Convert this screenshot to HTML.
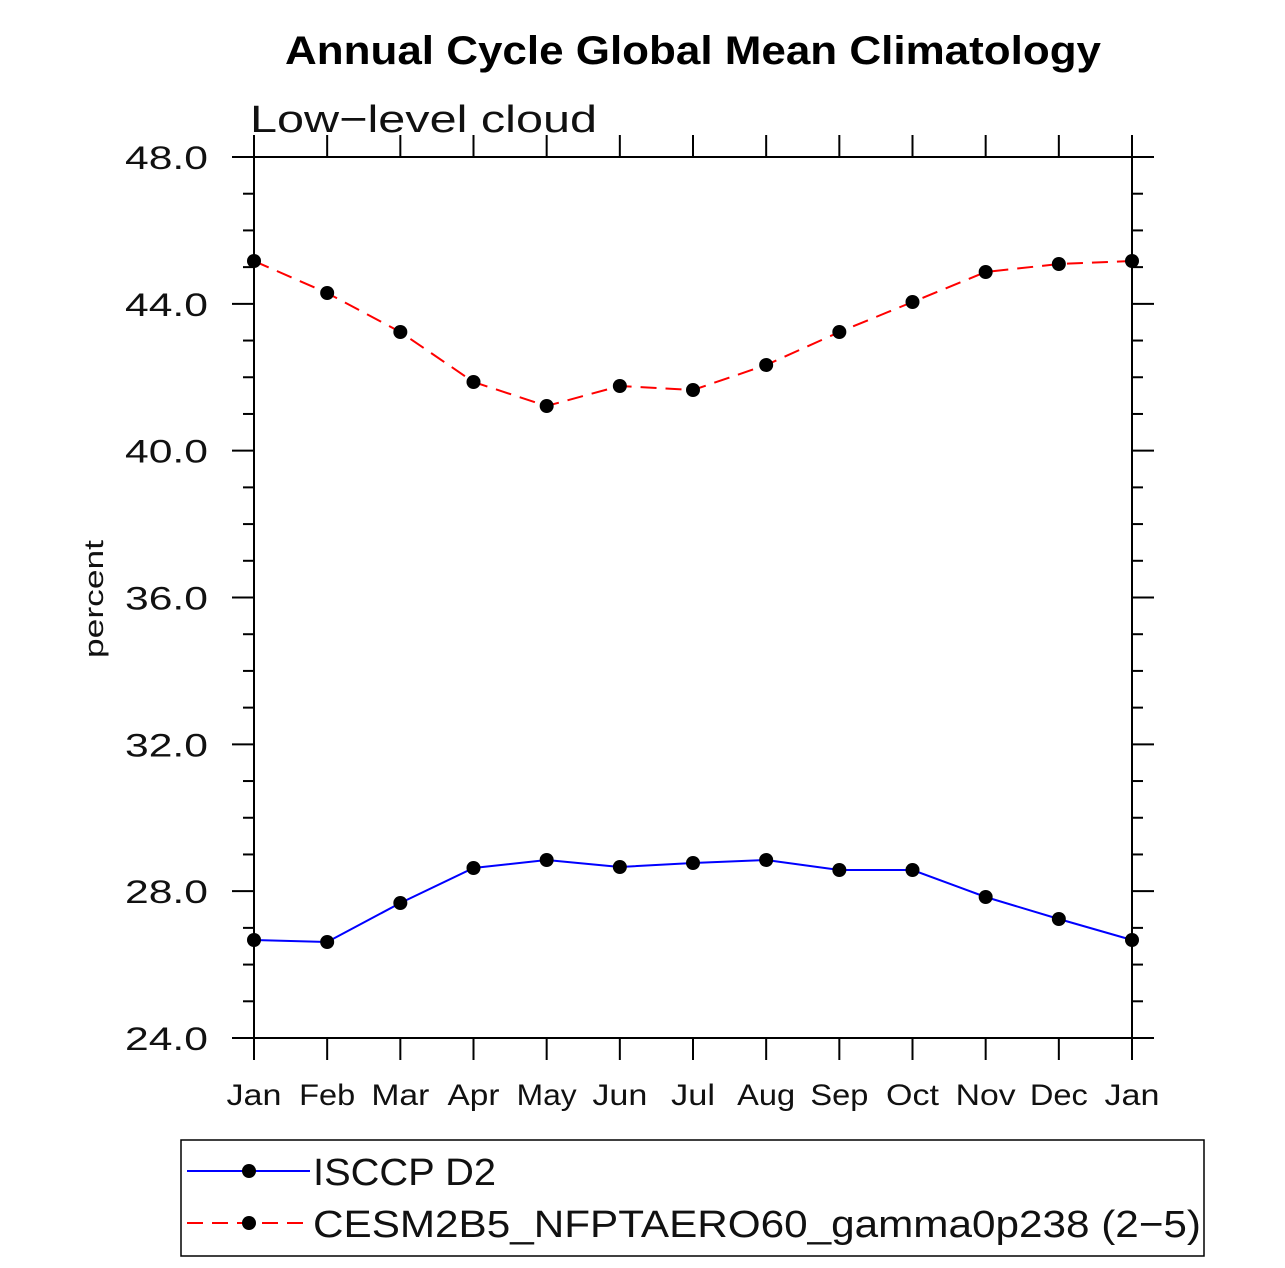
<!DOCTYPE html>
<html><head><meta charset="utf-8"><style>body{margin:0;background:#fff}</style></head><body>
<svg width="1285" height="1263" xmlns="http://www.w3.org/2000/svg" font-family="Liberation Sans, sans-serif">
<rect width="1285" height="1263" fill="#fff"/>
<text x="285" y="64" font-size="40" font-weight="bold" textLength="816" lengthAdjust="spacingAndGlyphs">Annual Cycle Global Mean Climatology</text>
<text x="250" y="132" font-size="38" fill="#111" textLength="347" lengthAdjust="spacingAndGlyphs">Low−level cloud</text>
<text transform="translate(103,540) rotate(-90)" x="-118" y="0" font-size="27" fill="#111" textLength="118" lengthAdjust="spacingAndGlyphs">percent</text>
<rect x="254" y="157" width="878" height="881" fill="none" stroke="#000" stroke-width="2"/>
<g id="ticks" stroke="#000" stroke-width="2"></g>
<g id="lbl" font-size="30" fill="#111"></g>
<polyline id="blue" fill="none" stroke="#0000ff" stroke-width="2"/>
<polyline id="red" fill="none" stroke="#ff0000" stroke-width="2" stroke-dasharray="16,9"/>
<g id="pts"></g>
<rect x="181" y="1140" width="1023" height="116" fill="none" stroke="#000" stroke-width="1.5"/>
<line x1="187" y1="1171" x2="310" y2="1171" stroke="#0000ff" stroke-width="2"/>
<circle cx="249" cy="1171" r="7"/>
<text x="313" y="1185" font-size="38" fill="#111" textLength="183" lengthAdjust="spacingAndGlyphs">ISCCP D2</text>
<line x1="187" y1="1223" x2="310" y2="1223" stroke="#ff0000" stroke-width="2" stroke-dasharray="16,9"/>
<circle cx="249" cy="1223" r="7"/>
<text x="313" y="1237" font-size="38" fill="#111" textLength="888" lengthAdjust="spacingAndGlyphs">CESM2B5_NFPTAERO60_gamma0p238 (2−5)</text>
<script>
var ns="http://www.w3.org/2000/svg";
function el(p,t,a){var e=document.createElementNS(ns,t);for(var k in a)e.setAttribute(k,a[k]);p.appendChild(e);return e;}
var T=document.getElementById('ticks'),L=document.getElementById('lbl'),P=document.getElementById('pts');
var mo=["Jan","Feb","Mar","Apr","May","Jun","Jul","Aug","Sep","Oct","Nov","Dec","Jan"];
var mw=[55,56,58,52,60,55,44,58,58,53,60,58,55];
for(var i=0;i<13;i++){var x=254+i*878/12;
el(T,'line',{x1:x,y1:1038,x2:x,y2:1060});el(T,'line',{x1:x,y1:157,x2:x,y2:135});
var t=el(L,'text',{x:x-mw[i]/2,y:1105,textLength:mw[i],lengthAdjust:'spacingAndGlyphs'});t.textContent=mo[i];}
for(var v=24;v<=48;v++){var y=1038-(v-24)*881/24;var len=(v%4==0)?22:11;
el(T,'line',{x1:254,y1:y,x2:254-len,y2:y});el(T,'line',{x1:1132,y1:y,x2:1132+len,y2:y});
if(v%4==0){var t=el(L,'text',{x:125,y:y+12,'font-size':32,textLength:83,lengthAdjust:'spacingAndGlyphs'});t.textContent=v.toFixed(1);}}
var r=[261,293,332,382,406,386,390,365,332,302,272,264,261],b=[940,942,903,868,860,867,863,860,870,870,897,919,940];
var rp=[],bp=[];
for(var i=0;i<13;i++){var x=254+i*878/12;rp.push(x+','+r[i]);bp.push(x+','+b[i]);
el(P,'circle',{cx:x,cy:r[i],r:7});el(P,'circle',{cx:x,cy:b[i],r:7});}
document.getElementById('red').setAttribute('points',rp.join(' '));
document.getElementById('blue').setAttribute('points',bp.join(' '));
</script>
</svg>
</body></html>
